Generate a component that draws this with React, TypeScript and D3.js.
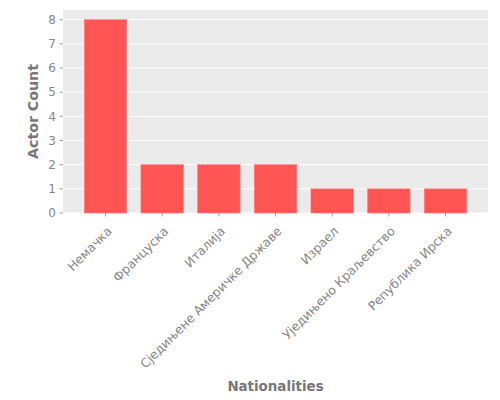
import * as d3 from "d3";

const W = 500;
const H = 400;
const M = { top: 10, right: 12, bottom: 187, left: 63 };
const PW = W - M.left - M.right;
const PH = H - M.top - M.bottom;

const nationalities = [
	"Немачка",
	"Француска",
	"Италија",
	"Сједињене Америчке Државе",
	"Израел",
	"Уједињено Краљевство",
	"Република Ирска",
];
const actorCounts = [8, 2, 2, 2, 1, 1, 1];
const yTicks = [0, 1, 2, 3, 4, 5, 6, 7, 8];

const BAR = "#FF5555";
const BG = "#EBEBEB";
const TXT = "#777777";
const TICK_TXT = "#878787";
const FONT = "'DejaVu Sans', sans-serif";

export default function App() {
	const x = d3
		.scaleLinear()
		.domain([-0.75, nationalities.length - 0.25])
		.range([0, PW]);
	const y = d3.scaleLinear().domain([0, 8.4]).range([PH, 0]);
	const bw = x(0.75) - x(0);

	return (
		<svg width={W} height={H} style={{ display: "block", margin: "-8px 0 0 -8px" }} fontFamily={FONT}>
			<g transform={`translate(${M.left},${M.top})`}>
				<rect width={PW} height={PH} fill={BG} />
				{yTicks.map((t) => (
					<line key={t} x1={0} x2={PW} y1={y(t)} y2={y(t)} stroke="#fff" strokeWidth={1} />
				))}
				{actorCounts.map((v, i) => (
					<rect
						key={i}
						x={x(i) - bw / 2}
						y={y(v)}
						width={bw}
						height={y(0) - y(v)}
						fill={BAR}
						stroke="#FF8080"
						strokeWidth={0.6}
					/>
				))}
				{yTicks.map((t) => (
					<g key={t} transform={`translate(0,${y(t)})`}>
						<line x1={-3.5} x2={0} stroke={TICK_TXT} strokeWidth={0.8} />
						<text x={-7} dy="0.36em" textAnchor="end" fontSize={12} fill={TICK_TXT}>
							{t}
						</text>
					</g>
				))}
				{nationalities.map((n, i) => (
					<g key={n} transform={`translate(${x(i)},${PH})`}>
						<line y1={0} y2={3.5} stroke={TICK_TXT} strokeWidth={0.8} />
						<text
							transform="translate(7,19) rotate(-45)"
							textAnchor="end"
							fontSize={12.4}
							fill={TICK_TXT}
						>
							{n}
						</text>
					</g>
				))}
				<text
					transform={`translate(-25.5,${PH / 2}) rotate(-90)`}
					textAnchor="middle"
					fontSize={14.2}
					fontWeight="bold"
					fill={TXT}
				>
					Actor Count
				</text>
				<text x={PW / 2} y={381} textAnchor="middle" fontSize={13.4} fontWeight="bold" fill={TXT}>
					Nationalities
				</text>
			</g>
		</svg>
	);
}
